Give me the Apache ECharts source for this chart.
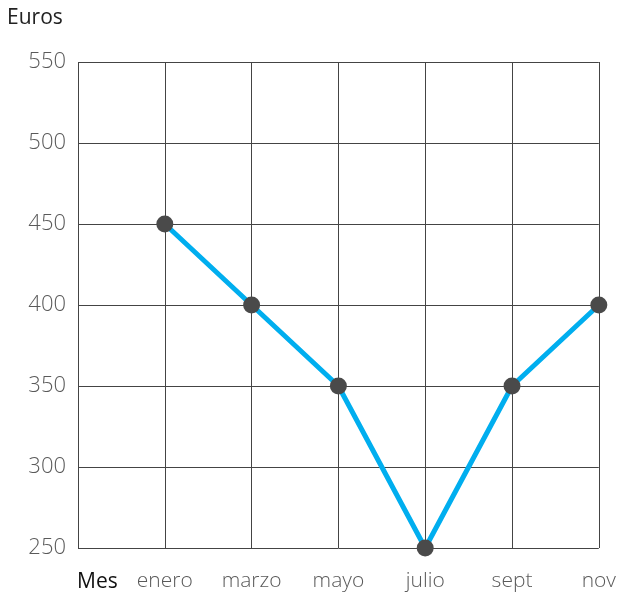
<!DOCTYPE html>
<html>
<head>
<meta charset="utf-8">
<script src="https://cdn.jsdelivr.net/npm/echarts@6/dist/echarts.min.js"></script>
<style>
  html, body { margin: 0; padding: 0; background: #fff; }
  #chart { width: 619px; height: 594px; }
</style>
</head>
<body>
<div id="chart"></div>
<script>
  // data
  var months = ['enero', 'marzo', 'mayo', 'julio', 'sept', 'nov'];
  var euros = [450, 400, 350, 250, 350, 400];
  var yTicks = [250, 300, 350, 400, 450, 500, 550];

  var points = months.map(function (m, i) { return [i + 1, euros[i]]; });
  var font = '"Open Sans", "DejaVu Sans", sans-serif';

  var chart = echarts.init(document.getElementById('chart'));
  var option = {
    animation: false,
    grid: { left: 78, right: 19, top: 62, bottom: 46 },
    xAxis: {
      type: 'value',
      min: 0,
      max: months.length,
      interval: 1,
      axisLine: { show: false },
      axisTick: { show: false },
      splitLine: { show: true, lineStyle: { color: '#444', width: 1 } },
      axisLabel: {
        margin: 23,
        fontFamily: font,
        fontSize: 21,
        fontWeight: 300,
        color: '#5a5a5a',
        formatter: function (v) { return v === 0 ? '' : months[v - 1]; }
      }
    },
    yAxis: {
      type: 'value',
      min: yTicks[0],
      max: yTicks[yTicks.length - 1],
      interval: 50,
      axisLine: { show: false },
      axisTick: { show: false },
      splitLine: { show: true, lineStyle: { color: '#444', width: 1 } },
      axisLabel: {
        margin: 12,
        fontFamily: font,
        fontSize: 22,
        fontWeight: 300,
        color: '#5a5a5a'
      }
    },
    graphic: [
      { type: 'text', left: 7, top: 8, style: { text: 'Euros', font: '21px ' + font, fill: '#222' } },
      { type: 'text', left: 77, top: 572, style: { text: 'Mes', font: '21px ' + font, fill: '#111' } }
    ],
    series: [{
      type: 'line',
      data: points,
      lineStyle: { color: '#00aeef', width: 5 },
      symbol: 'circle',
      symbolSize: 17,
      itemStyle: { color: '#4a4a4a' },
      z: 5
    }]
  };
  chart.setOption(option);
</script>
</body>
</html>
